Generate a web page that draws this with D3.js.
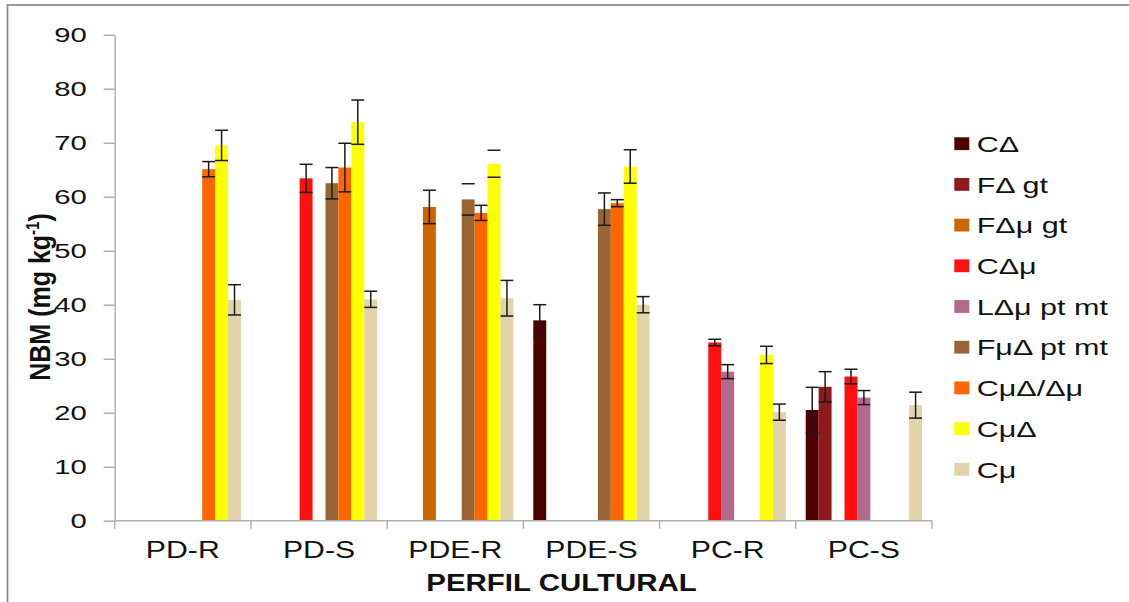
<!DOCTYPE html>
<html>
<head>
<meta charset="utf-8">
<script src="https://cdn.jsdelivr.net/npm/d3@7"></script>
<style>
  html, body { margin: 0; padding: 0; background: #fff; }
  svg { display: block; font-family: "Liberation Sans", Arial, sans-serif; }
</style>
</head>
<body>
<svg id="chart" width="1129" height="602"></svg>
<script>
// ---- data ----
const categories = ["PD-R", "PD-S", "PDE-R", "PDE-S", "PC-R", "PC-S"];
const seriesNames = ["C\u0394", "F\u0394 gt", "F\u0394\u03bc gt", "C\u0394\u03bc", "L\u0394\u03bc pt mt", "F\u03bc\u0394 pt mt", "C\u03bc\u0394/\u0394\u03bc", "C\u03bc\u0394", "C\u03bc"];
const seriesColors = ["#4d0000", "#8f1a1e", "#cc6600", "#ff1010", "#b06a8c", "#996633", "#ff6600", "#ffff00", "#e3d3ab"];

const valuesCD     = [null, null, null, 37.1, null, 20.5];
const valuesFDgt   = [null, null, null, null, null, 24.8];
const valuesFDmgt  = [null, null, 58.1, null, null, null];
const valuesCDm    = [null, 63.4, null, null, 33.0, 26.7];
const valuesLDm    = [null, null, null, null, 27.6, 22.8];
const valuesFmD    = [null, 62.5, 59.5, 57.7, null, null];
const valuesCmDDm  = [65.1, 65.4, 57.0, 58.8, null, null];
const valuesCmD    = [69.5, 73.8, 66.1, 65.6, 30.7, null];
const valuesCm     = [40.9, 41.0, 41.2, 40.0, 20.1, 21.4];

const errorsCD     = [null, null, null, 2.9, null, 4.2];
const errorsFDgt   = [null, null, null, null, null, 2.8];
const errorsFDmgt  = [null, null, 3.1, null, null, null];
const errorsCDm    = [null, 2.6, null, null, 0.6, 1.35];
const errorsLDm    = [null, null, null, null, 1.3, 1.3];
const errorsFmD    = [null, 2.9, 2.9, 3.0, null, null];
const errorsCmDDm  = [1.4, 4.5, 1.4, 0.65, null, null];
const errorsCmD    = [2.8, 4.1, 2.5, 3.1, 1.6, null];
const errorsCm     = [2.8, 1.5, 3.3, 1.5, 1.5, 2.4];

// error bars drawn without a visible stem in the reference (series index, category)
const stemless = [[5, "PDE-R"], [7, "PDE-R"]];

const yTicks = [0, 10, 20, 30, 40, 50, 60, 70, 80, 90];

const allValues = [valuesCD, valuesFDgt, valuesFDmgt, valuesCDm, valuesLDm, valuesFmD, valuesCmDDm, valuesCmD, valuesCm];
const allErrors = [errorsCD, errorsFDgt, errorsFDmgt, errorsCDm, errorsLDm, errorsFmD, errorsCmDDm, errorsCmD, errorsCm];

// ---- build records ----
const records = [];
seriesNames.forEach((s, si) => {
  categories.forEach((c, ci) => {
    const v = allValues[si][ci];
    if (v !== null) records.push({ s, si, c, v, e: allErrors[si][ci] });
  });
});

// ---- layout ----
const svg = d3.select("#chart");
const plotLeft = 114.7, plotRight = 932, plotBottom = 520.7, plotTop = 34.7;

const x0 = d3.scaleBand().domain(categories).range([plotLeft, plotRight]).padding(0);
const x1 = d3.scaleBand().domain(seriesNames).range([0, x0.bandwidth()]).paddingInner(0).paddingOuter(0.77);
const y = d3.scaleLinear().domain([0, 90]).range([plotBottom, plotTop]);
const color = d3.scaleOrdinal().domain(seriesNames).range(seriesColors);

// outer frame
svg.append("rect")
  .attr("x", 7.5).attr("y", 5).attr("width", 1200).attr("height", 700)
  .attr("fill", "none").attr("stroke", "#888").attr("stroke-width", 1.7);

// bars
svg.append("g").selectAll("rect").data(records).join("rect")
  .attr("x", d => x0(d.c) + x1(d.s))
  .attr("y", d => y(d.v))
  .attr("width", x1.bandwidth())
  .attr("height", d => y(0) - y(d.v))
  .attr("fill", d => color(d.s));

// error bars
const eg = svg.append("g").attr("stroke", "#1a1a1a").attr("stroke-width", 1.5);
records.forEach(d => {
  const cx = x0(d.c) + x1(d.s) + x1.bandwidth() / 2;
  const hw = x1.bandwidth() / 2;
  const top = y(d.v + d.e), bot = y(d.v - d.e);
  const noStem = stemless.some(p => p[0] === d.si && p[1] === d.c);
  if (!noStem) eg.append("line").attr("x1", cx).attr("x2", cx).attr("y1", top).attr("y2", bot);
  eg.append("line").attr("x1", cx - hw).attr("x2", cx + hw).attr("y1", top).attr("y2", top);
  eg.append("line").attr("x1", cx - hw).attr("x2", cx + hw).attr("y1", bot).attr("y2", bot);
});

// y axis
const yAxis = svg.append("g").attr("transform", `translate(${plotLeft},0)`)
  .call(d3.axisLeft(y).tickValues(yTicks).tickSize(11).tickSizeOuter(0).tickFormat(d3.format("d")));
yAxis.select(".domain").attr("stroke", "#b0b0b0").attr("stroke-width", 1.5);
yAxis.selectAll(".tick line").attr("stroke", "#b0b0b0").attr("stroke-width", 1.5);
yAxis.selectAll(".tick text")
  .attr("x", 0).attr("dy", "0.36em")
  .attr("transform", "translate(-28,0) scale(1.5,1)")
  .attr("font-size", 19.5).attr("fill", "#111")
  .attr("font-family", "Liberation Sans, Arial, sans-serif");

// x axis
const xg = svg.append("g");
xg.append("line").attr("x1", plotLeft).attr("x2", plotRight).attr("y1", plotBottom).attr("y2", plotBottom)
  .attr("stroke", "#b0b0b0").attr("stroke-width", 1.5);
const bounds = categories.map(c => x0(c)).concat([plotRight]);
xg.selectAll("line.tk").data(bounds).join("line").attr("class", "tk")
  .attr("x1", d => d).attr("x2", d => d).attr("y1", plotBottom).attr("y2", plotBottom + 8)
  .attr("stroke", "#b0b0b0").attr("stroke-width", 1.5);
xg.selectAll("text").data(categories).join("text")
  .attr("transform", d => `translate(${x0(d) + x0.bandwidth() / 2},558.3) scale(1.26,1)`)
  .attr("text-anchor", "middle").attr("font-size", 24).attr("fill", "#111")
  .text(d => d);

// axis titles
svg.append("text")
  .attr("transform", "translate(561.5,590.7) scale(1.28,1)")
  .attr("text-anchor", "middle").attr("font-size", 23).attr("font-weight", "bold").attr("fill", "#111")
  .text("PERFIL CULTURAL");

const yt = svg.append("text")
  .attr("transform", "translate(50,297) scale(1.2,1) rotate(-90)")
  .attr("text-anchor", "middle").attr("font-size", 25).attr("font-weight", "bold").attr("fill", "#111");
yt.append("tspan").text("NBM (mg kg");
yt.append("tspan").attr("font-size", 15).attr("dy", -9).text("-1");
yt.append("tspan").attr("dy", 9).text(")");

// legend
const lg = svg.append("g");
seriesNames.forEach((s, i) => {
  const cy = 143.7 + i * 40.7;
  lg.append("rect").attr("x", 954.3).attr("y", cy - 6.4).attr("width", 15).attr("height", 12.8).attr("fill", color(s));
  lg.append("text")
    .attr("transform", `translate(976.7,${cy + 8.2}) scale(1.42,1)`)
    .attr("font-size", 21.5).attr("fill", "#111").text(s);
});
</script>
</body>
</html>
